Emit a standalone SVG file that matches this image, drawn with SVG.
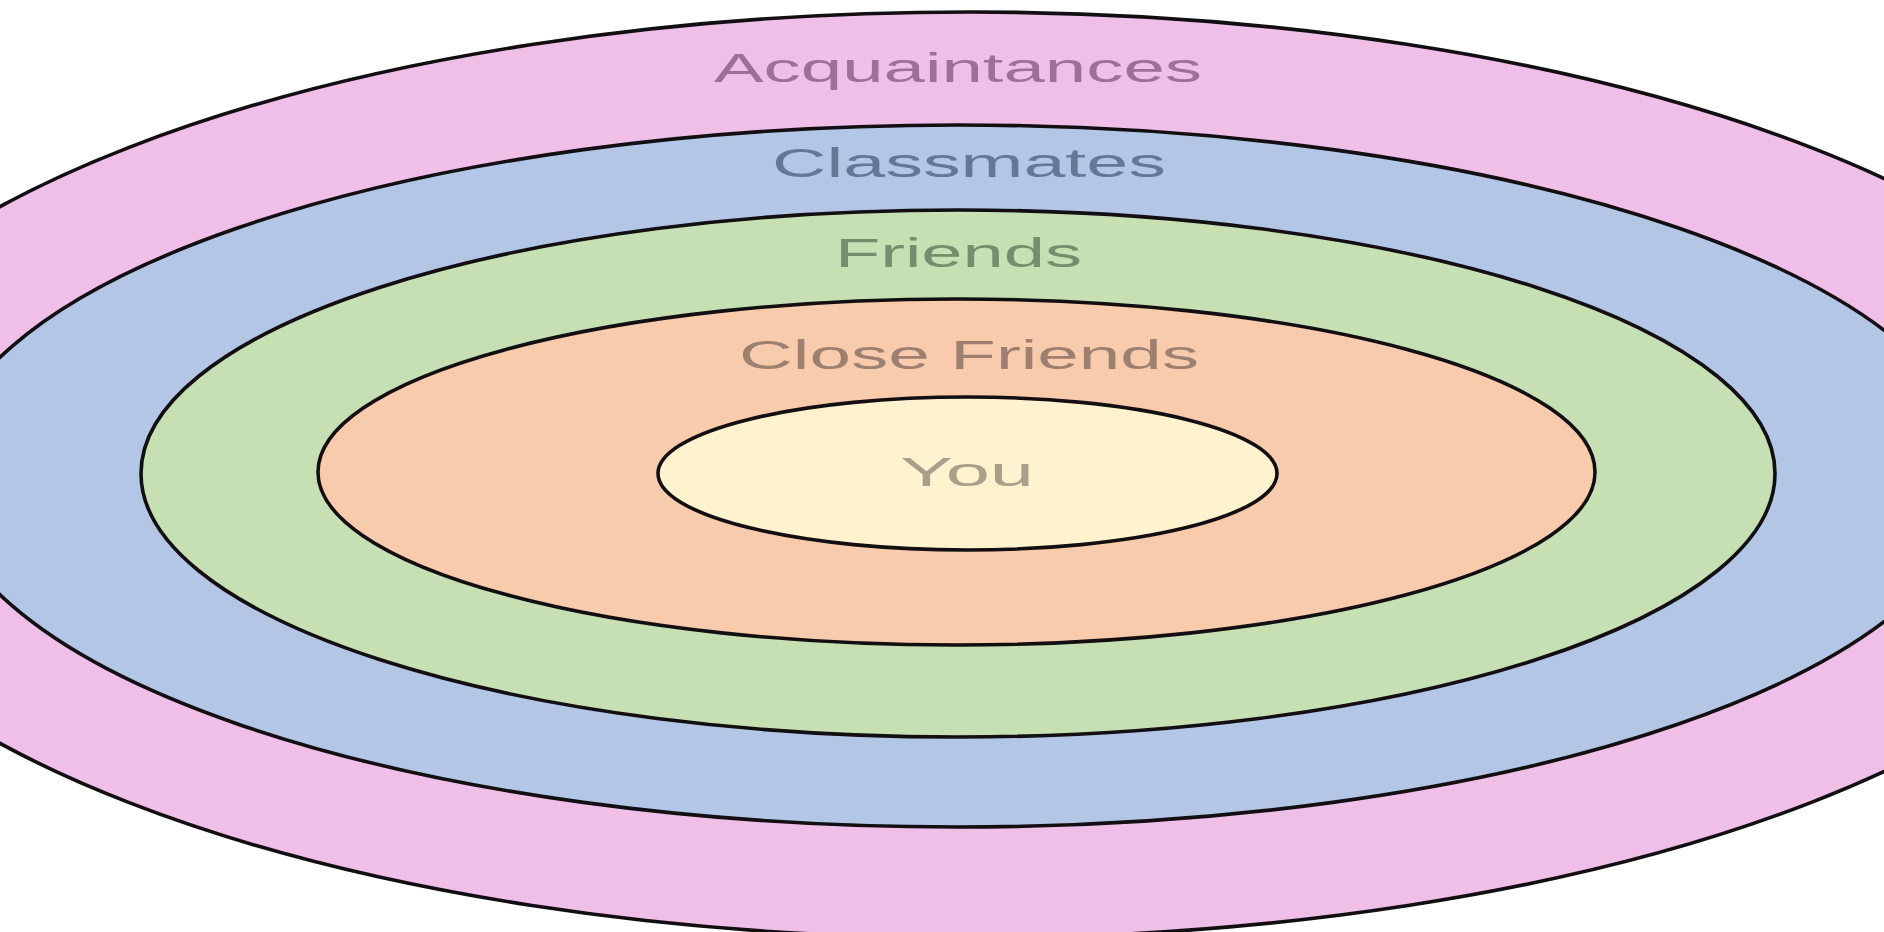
<svg xmlns="http://www.w3.org/2000/svg" width="1884" height="932" viewBox="0 0 1884 932">
  <style>
    .ring { stroke: #120e12; stroke-width: 3.6; }
    .lbl { font-family: "Liberation Sans", "DejaVu Sans", sans-serif; font-size: 40px; font-weight: normal; }
  </style>
  <rect x="0" y="0" width="1884" height="932" fill="#ffffff"/>
  <g id="acquaintances">
    <ellipse class="ring" cx="970" cy="475" rx="1190" ry="463" fill="#f0bfe8"/>
    <text class="lbl" x="714" y="82" textLength="488" lengthAdjust="spacingAndGlyphs" fill="#9c7099" font-size="38">Acquaintances</text>
  </g>
  <g id="classmates">
    <ellipse class="ring" cx="958" cy="476" rx="1018" ry="351" fill="#b3c6e6"/>
    <text class="lbl" x="772" y="177" textLength="394" lengthAdjust="spacingAndGlyphs" fill="#637895">Classmates</text>
  </g>
  <g id="friends">
    <ellipse class="ring" cx="958" cy="473.5" rx="817" ry="263.5" fill="#c6e0b4"/>
    <text class="lbl" x="835" y="267" textLength="247" lengthAdjust="spacingAndGlyphs" fill="#738f6e">Friends</text>
  </g>
  <g id="close-friends">
    <ellipse class="ring" cx="956.5" cy="472" rx="638.5" ry="173" fill="#f8cbad"/>
    <text class="lbl" x="739" y="369" textLength="460" lengthAdjust="spacingAndGlyphs" fill="#9e8070">Close Friends</text>
  </g>
  <g id="you">
    <ellipse class="ring" cx="967.5" cy="473.5" rx="309.5" ry="76.5" fill="#fff2cf"/>
    <text class="lbl" x="900" y="486" textLength="134" lengthAdjust="spacingAndGlyphs" fill="#a8a08a">You</text>
  </g>
  <g id="connectors"/>
</svg>
